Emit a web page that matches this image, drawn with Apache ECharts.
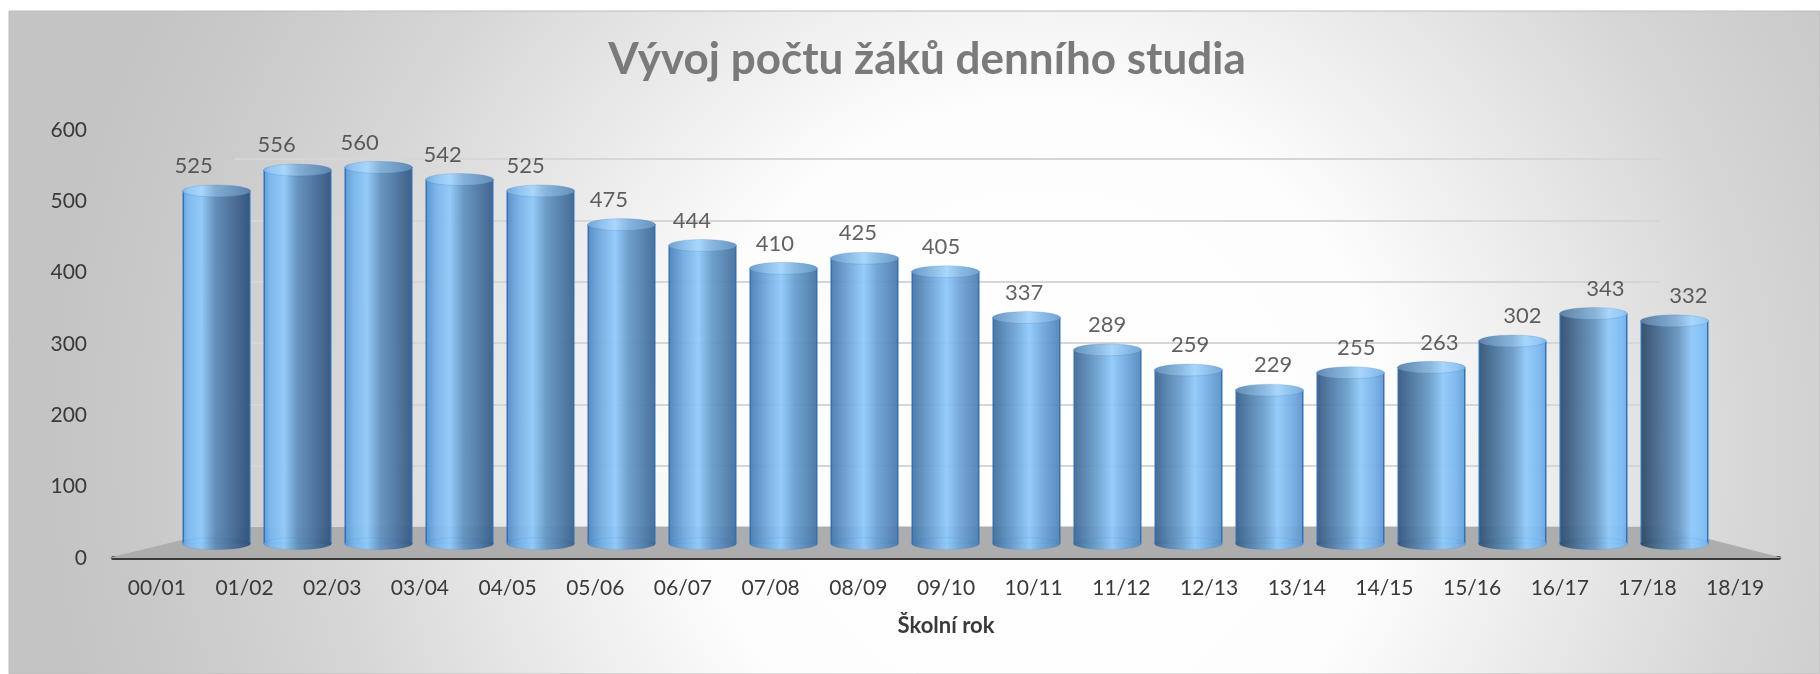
<!DOCTYPE html>
<html>
<head>
<meta charset="utf-8">
<script src="https://cdn.jsdelivr.net/npm/echarts@6/dist/echarts.min.js"></script>
<style>
    html, body { margin: 0; padding: 0; background: #ffffff; }
    #chart { width: 1820px; height: 674px; }
</style>
</head>
<body>
<div id="chart"></div>
<script type="text/javascript">
    // školní roky a počty žáků
    var skolniRoky = ['00/01', '01/02', '02/03', '03/04', '04/05', '05/06', '06/07', '07/08', '08/09', '09/10',
        '10/11', '11/12', '12/13', '13/14', '14/15', '15/16', '16/17', '17/18', '18/19'];
    var pocetZaku = [525, 556, 560, 542, 525, 475, 444, 410, 425, 405, 337, 289, 259, 229, 255, 263, 302, 343, 332];
    var osaMin = 0;
    var osaMax = 600;
    var osaKrok = 100;

    var pismo = 'Lato, "Open Sans", sans-serif';
    var textBarva = '#3a3a3a';

    function hex(c) {
        return [parseInt(c.substr(1, 2), 16), parseInt(c.substr(3, 2), 16), parseInt(c.substr(5, 2), 16)];
    }
    function mix(a, b, t) {
        var x = hex(a), y = hex(b);
        var r = [];
        for (var i = 0; i < 3; i++) {
            r.push(Math.round(x[i] + (y[i] - x[i]) * t));
        }
        return 'rgb(' + r.join(',') + ')';
    }
    function mixHex(a, b, t) {
        var x = hex(a), y = hex(b);
        var s = '#';
        for (var i = 0; i < 3; i++) {
            var v = Math.round(x[i] + (y[i] - x[i]) * t).toString(16);
            s += v.length < 2 ? '0' + v : v;
        }
        return s;
    }

    // světlo na válci se posouvá zleva doprava (perspektiva)
    function barvaValce(i, svetle) {
        var t = i / (pocetZaku.length - 1);
        var left = mixHex('#5c9fe2', '#2c4866', t);
        var right = mixHex('#2e4e74', '#6cafee', t);
        var hl = '#90cafb';
        if (svetle) {
            left = mixHex(left, '#9fd0fa', 0.4);
            right = mixHex(right, '#9fd0fa', 0.4);
            hl = '#a8d6fc';
        }
        var h = 0.28 + 0.47 * t;
        return new echarts.graphic.LinearGradient(0, 0, 1, 0, [
            {offset: 0, color: left},
            {offset: h - 0.2, color: mix(left, hl, 0.6)},
            {offset: h, color: hl},
            {offset: h + 0.2, color: mix(right, hl, 0.5)},
            {offset: 1, color: right}
        ]);
    }

    var teloData = [];
    var vrchData = [];
    var spodekData = [];
    for (var i = 0; i < pocetZaku.length; i++) {
        teloData.push({value: pocetZaku[i], itemStyle: {color: barvaValce(i, false)}});
        vrchData.push({value: pocetZaku[i], itemStyle: {color: barvaValce(i, true)}});
        spodekData.push({value: pocetZaku[i], itemStyle: {color: barvaValce(i, false)}});
    }

    var myChart = echarts.init(document.getElementById('chart'));

    var option = {
        animation: false,
        textStyle: {fontFamily: pismo},
        title: {
            text: 'Vývoj počtu žáků denního studia',
            left: 922,
            top: 33,
            textAlign: 'center',
            textStyle: {fontFamily: pismo, fontSize: 44, fontWeight: 'bold', color: '#7a7a7a'}
        },
        graphic: [
            {
                // rám grafu s přechodem
                type: 'rect',
                z: -10,
                silent: true,
                shape: {x: 9, y: 11, width: 1811, height: 663},
                style: {
                    fill: new echarts.graphic.RadialGradient(0.57, 0.66, 1.5, [
                        {offset: 0, color: '#ffffff'},
                        {offset: 0.35, color: '#fdfdfd'},
                        {offset: 0.72, color: '#d6d6d6'},
                        {offset: 0.9, color: '#c9c9c9'},
                        {offset: 1, color: '#c4c4c4'}
                    ]),
                    stroke: '#bdbdbd',
                    lineWidth: 1
                }
            },
            {
                // podlaha
                type: 'polygon',
                z: 1,
                silent: true,
                shape: {points: [[108, 558], [235, 527], [1662, 527], [1783, 558]]},
                style: {fill: '#adadad'}
            }
        ],
        grid: [
            {left: 113, right: 41, top: 130, bottom: 116},   // přední osa
            {left: 235, right: 160, top: 159, bottom: 147},  // zadní stěna
            {left: 176, right: 105, top: 140, bottom: 130},  // válce
            {left: 152, right: 90, top: 140, bottom: 130}    // popisky hodnot
        ],
        xAxis: [
            {
                gridIndex: 0,
                type: 'category',
                data: skolniRoky,
                name: 'Školní rok',
                nameLocation: 'middle',
                nameGap: 57,
                nameTextStyle: {fontFamily: pismo, fontSize: 22, fontWeight: 'bold', color: textBarva},
                axisLine: {lineStyle: {color: '#3a3a3a', width: 4}},
                axisTick: {show: false},
                axisLabel: {fontFamily: pismo, fontSize: 21, color: textBarva, margin: 20}
            },
            {gridIndex: 1, type: 'category', data: skolniRoky, show: false},
            {gridIndex: 2, type: 'category', data: skolniRoky, show: false},
            {gridIndex: 3, type: 'category', data: skolniRoky, show: false}
        ],
        yAxis: [
            {
                gridIndex: 0,
                type: 'value',
                min: osaMin,
                max: osaMax,
                interval: osaKrok,
                axisLine: {show: false},
                axisTick: {show: false},
                splitLine: {show: false},
                axisLabel: {fontFamily: pismo, fontSize: 21, color: textBarva, margin: 26}
            },
            {
                gridIndex: 1,
                type: 'value',
                min: osaMin,
                max: osaMax,
                interval: osaKrok,
                axisLine: {show: false},
                axisTick: {show: false},
                axisLabel: {show: false},
                splitLine: {lineStyle: {color: '#d6d6d6', width: 2}}
            },
            {gridIndex: 2, type: 'value', min: osaMin, max: osaMax, show: false},
            {gridIndex: 3, type: 'value', min: osaMin, max: osaMax, show: false}
        ],
        series: [
            {
                name: 'Počet žáků',
                type: 'bar',
                xAxisIndex: 2,
                yAxisIndex: 2,
                barWidth: 68,
                z: 3,
                itemStyle: {borderColor: '#2f6fb2', borderWidth: 1.5, opacity: 0.95},
                data: teloData
            },
            {
                type: 'pictorialBar',
                xAxisIndex: 2,
                yAxisIndex: 2,
                symbol: 'circle',
                symbolSize: [68, 12],
                symbolOffset: [0, '50%'],
                symbolPosition: 'start',
                barGap: '-100%',
                z: 4,
                itemStyle: {borderColor: 'rgba(47,111,178,0.8)', borderWidth: 1.5, opacity: 0.95},
                data: spodekData
            },
            {
                type: 'pictorialBar',
                xAxisIndex: 2,
                yAxisIndex: 2,
                symbol: 'circle',
                symbolSize: [68, 12],
                symbolOffset: [0, '-50%'],
                symbolPosition: 'end',
                barGap: '-100%',
                z: 5,
                itemStyle: {borderColor: '#2f6fb2', borderWidth: 2},
                data: vrchData
            },
            {
                type: 'scatter',
                xAxisIndex: 3,
                yAxisIndex: 3,
                symbolSize: 1,
                silent: true,
                z: 6,
                itemStyle: {color: 'rgba(0,0,0,0)'},
                label: {
                    show: true,
                    position: 'top',
                    distance: 13,
                    fontFamily: pismo,
                    fontSize: 22,
                    color: textBarva
                },
                data: pocetZaku
            }
        ]
    };
    myChart.setOption(option);
</script>
</body>
</html>
